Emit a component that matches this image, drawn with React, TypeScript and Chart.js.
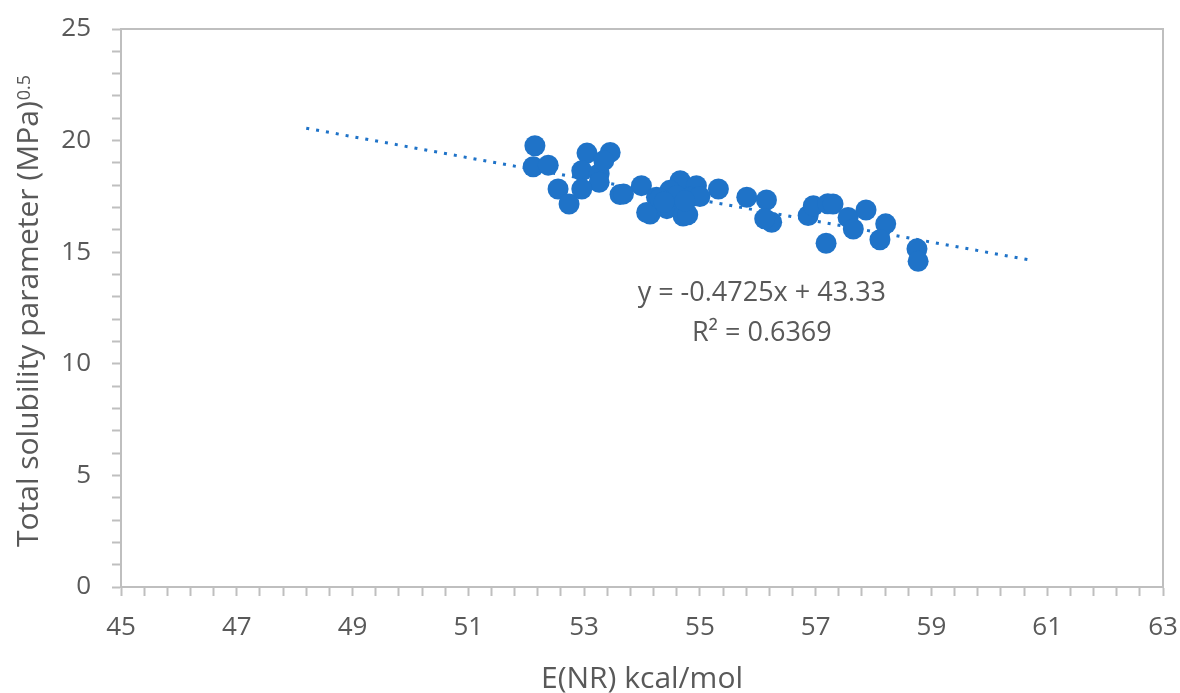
import { useEffect, useRef } from "react";
import { Chart, registerables } from "chart.js";

Chart.register(...registerables);

// E(NR) kcal/mol
const xValues: number[] = [
  52.15, 52.12, 52.38, 52.55, 52.74, 53.05, 53.45, 52.96, 53.26, 53.26,
  52.96, 53.62, 53.99, 54.14, 54.43, 54.66, 54.94, 54.71, 54.48, 54.83,
  55.32, 55.81, 54.25, 54.08, 53.68, 56.15, 56.24, 56.12, 56.87, 56.96,
  57.21, 57.30, 57.56, 57.65, 57.18, 57.87, 58.21, 58.11, 58.75, 58.77,
  54.59, 54.31, 54.79, 55.0, 53.34, 54.74, 54.38,
];
// Total solubility parameter (MPa)^0.5
const yValues: number[] = [
  19.77, 18.83, 18.90, 17.83, 17.16, 19.44, 19.47, 18.65, 18.52, 18.13,
  17.83, 17.58, 17.98, 16.71, 16.95, 18.20, 17.98, 16.62, 17.77, 17.46,
  17.83, 17.46, 17.46, 16.78, 17.61, 17.34, 16.34, 16.50, 16.64, 17.08,
  17.17, 17.16, 16.56, 16.04, 15.40, 16.89, 16.27, 15.56, 15.15, 14.59,
  17.53, 17.40, 16.68, 17.49, 19.10, 17.30, 17.25,
];

const xTickLabels: number[] = [45, 47, 49, 51, 53, 55, 57, 59, 61, 63];
const yTickLabels: number[] = [0, 5, 10, 15, 20, 25];

const trendSlope = -0.4725;
const trendIntercept = 43.33;
const trendRange: number[] = [48.2, 60.7];

const xTitle = "E(NR) kcal/mol";
const yTitle = "Total solubility parameter (MPa)";
const yTitleSup = "0.5";
const eqLine1 = "y = -0.4725x + 43.33";
const eqLine2 = "R\u00B2 = 0.6369";
const eqAnchor: number[] = [56.07, 13.15, 11.36];

const FONT = "'Open Sans', sans-serif";
const TEXT = "#595959";
const AXIS = "#bfbfbf";
const BLUE = "#1f73c8";

const zeroPad = (s: any) => {
  s.paddingTop = 0;
  s.paddingBottom = 0;
  s.paddingLeft = 0;
  s.paddingRight = 0;
};

export default function App() {
  const ref = useRef<HTMLCanvasElement | null>(null);

  useEffect(() => {
    if (!ref.current) return;
    const deco = {
      id: "deco",
      afterDraw(chart: any) {
        const { ctx, chartArea: a, scales } = chart;
        ctx.save();
        // top & right frame
        ctx.strokeStyle = AXIS;
        ctx.lineWidth = 2;
        ctx.beginPath();
        ctx.moveTo(a.left, a.top);
        ctx.lineTo(a.right, a.top);
        ctx.lineTo(a.right, a.bottom);
        ctx.stroke();

        ctx.fillStyle = TEXT;
        // x title
        ctx.font = `30px ${FONT}`;
        ctx.textAlign = "center";
        ctx.textBaseline = "alphabetic";
        ctx.fillText(xTitle, (a.left + a.right) / 2, 688);

        // y title with superscript
        const mainFont = `30px ${FONT}`;
        const supFont = `18px ${FONT}`;
        ctx.font = mainFont;
        const w1 = ctx.measureText(yTitle).width;
        ctx.font = supFont;
        const w2 = ctx.measureText(yTitleSup).width;
        const total = w1 + w2 + 1;
        ctx.translate(38, (a.top + a.bottom) / 2 + 3);
        ctx.rotate(-Math.PI / 2);
        ctx.textAlign = "left";
        ctx.font = mainFont;
        ctx.fillText(yTitle, -total / 2, 0);
        ctx.font = supFont;
        ctx.fillText(yTitleSup, -total / 2 + w1 + 1, -8);
        ctx.setTransform(1, 0, 0, 1, 0, 0);

        // equation
        const cx = scales.x.getPixelForValue(eqAnchor[0]);
        const y1 = scales.y.getPixelForValue(eqAnchor[1]);
        const y2 = scales.y.getPixelForValue(eqAnchor[2]);
        ctx.font = `27px ${FONT}`;
        ctx.textAlign = "center";
        ctx.textBaseline = "middle";
        ctx.fillText(eqLine1, cx, y1);
        ctx.fillText(eqLine2, cx, y2);
        ctx.restore();
      },
    };

    const chart = new Chart(ref.current, {
      type: "scatter",
      data: {
        datasets: [
          {
            label: "data",
            data: xValues.map((x, i) => ({ x, y: yValues[i] })),
            pointRadius: 10.5,
            pointHoverRadius: 10.5,
            backgroundColor: BLUE,
            borderWidth: 0,
            order: 1,
          },
          {
            label: "trend",
            type: "line",
            data: trendRange.map((x) => ({ x, y: trendSlope * x + trendIntercept })),
            borderColor: BLUE,
            borderWidth: 3,
            borderDash: [3, 7],
            pointRadius: 0,
            fill: false,
            order: 2,
          } as any,
        ],
      },
      options: {
        animation: false,
        responsive: false,
        maintainAspectRatio: false,
        layout: { padding: { left: 0, top: 29, right: 17, bottom: 0 } },
        plugins: { legend: { display: false }, tooltip: { enabled: false } },
        scales: {
          x: {
            type: "linear",
            min: 45,
            max: 63,
            afterFit: (s: any) => {
              s.height = 106;
              zeroPad(s);
            },
            ticks: {
              stepSize: 0.4,
              autoSkip: false,
              maxRotation: 0,
              padding: 16,
              color: TEXT,
              font: { family: FONT, size: 26 },
              callback: (v: any) => {
                const r = Math.round(Number(v) * 10) / 10;
                return xTickLabels.some((t) => Math.abs(t - r) < 1e-6) ? String(r) : "";
              },
            },
            grid: {
              drawOnChartArea: false,
              drawTicks: true,
              tickLength: 9,
              tickColor: AXIS,
              tickWidth: 2,
            },
            border: { display: true, color: AXIS, width: 2 },
          },
          y: {
            type: "linear",
            min: 0,
            max: 25,
            afterFit: (s: any) => {
              s.width = 121;
              zeroPad(s);
            },
            ticks: {
              stepSize: 1,
              autoSkip: false,
              padding: 21,
              color: TEXT,
              font: { family: FONT, size: 26 },
              callback: (v: any) => {
                const r = Math.round(Number(v));
                return yTickLabels.includes(r) && Math.abs(Number(v) - r) < 1e-6 ? String(r) : "";
              },
            },
            grid: {
              drawOnChartArea: false,
              drawTicks: true,
              tickLength: 9,
              tickColor: AXIS,
              tickWidth: 2,
            },
            border: { display: true, color: AXIS, width: 2 },
          },
        },
      },
      plugins: [deco],
    });
    return () => chart.destroy();
  }, []);

  return (
    <div style={{ position: "fixed", left: 0, top: 0, width: 1180, height: 693, background: "#fff" }}>
      <canvas ref={ref} width={1180} height={693} style={{ width: 1180, height: 693 }} />
    </div>
  );
}
